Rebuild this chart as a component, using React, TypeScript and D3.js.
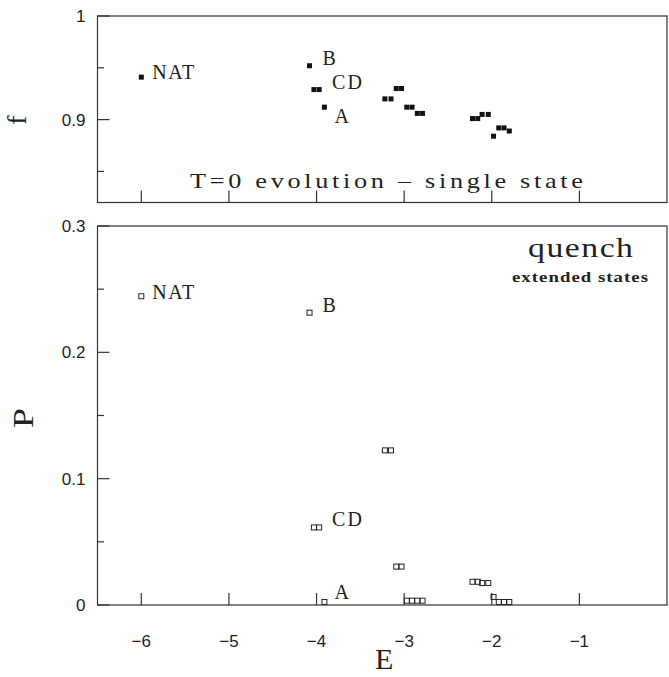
import React from "react";
import * as d3 from "d3";

// states: energy E, overlap f (T=0 evolution), population P (quench)
const energies = [-6.0, -4.08, -4.03, -3.97, -3.91, -3.22, -3.15, -3.09, -3.03, -2.97, -2.91, -2.85, -2.79, -2.22, -2.16, -2.11, -2.04, -1.98, -1.92, -1.86, -1.8];
const overlaps = [0.941, 0.952, 0.929, 0.929, 0.912, 0.92, 0.92, 0.93, 0.93, 0.912, 0.912, 0.906, 0.906, 0.901, 0.901, 0.905, 0.905, 0.884, 0.892, 0.892, 0.889];
const populations = [0.244, 0.231, 0.061, 0.061, 0.002, 0.122, 0.122, 0.03, 0.03, 0.003, 0.003, 0.003, 0.003, 0.018, 0.018, 0.017, 0.017, 0.006, 0.002, 0.002, 0.002];

// labelled states: index of the point it sits next to
const labelNames = ["NAT", "B", "CD", "A"];
const labelIdx = [0, 1, 2, 4];
const labelDx = [11, 13, 18, 10];
const labelDyTop = [2, -1, -1, 16];
const labelDyBot = [2, -1, -2, -3];
const labelLen = [42, 13, 30, 14];

const xTicks = [-6, -5, -4, -3, -2, -1];
const fMajor = [0.9, 1];
const fMinor = [0.85, 0.95];
const pMajor = [0, 0.1, 0.2, 0.3];
const pMinor = [0.05, 0.15, 0.25];

const W = 669;
const H = 677;
const left = 97.5;
const right = 667;
const ink = "#333";
const serif = "'Liberation Serif', 'DejaVu Serif', serif";
const sans = "'Liberation Sans', Arial, sans-serif";

// text stretched horizontally by sx, then spaced out to a given width
function Wide(props: { x: number; y: number; len: number; size: number; sx?: number; weight?: string; children: string }) {
  const sx = props.sx ?? 1.25;
  return (
    <g transform={`translate(${props.x},${props.y}) scale(${sx},1)`}>
      <text x={0} y={0} fontFamily={serif} fontSize={props.size} fontWeight={props.weight} textLength={props.len / sx} lengthAdjust="spacing" fill="#222">
        {props.children}
      </text>
    </g>
  );
}

export default function App() {
  const x = d3.scaleLinear().domain([-6.5, 0]).range([left, right]);
  const yf = d3.scaleLinear().domain([0.82, 1]).range([202.5, 16]);
  const yp = d3.scaleLinear().domain([0, 0.3]).range([605, 226]);
  const sq = 5;

  const frame = (y: d3.ScaleLinear<number, number>, major: number[], minor: number[], fmt: (v: number) => string, withTickLabels: boolean) => {
    const [b, t] = y.range();
    return (
      <g>
        <rect x={left} y={t} width={right - left} height={b - t} fill="none" stroke={ink} strokeWidth={1.2} />
        {major.map((v) => (
          <g key={"M" + v}>
            <line x1={left} x2={left + 12} y1={y(v)} y2={y(v)} stroke={ink} strokeWidth={1.2} />
            <text x={left - 12} y={y(v)} dy="0.35em" textAnchor="end" fontFamily={sans} fontSize={17} fill="#222">{fmt(v)}</text>
          </g>
        ))}
        {minor.map((v) => (
          <line key={"m" + v} x1={left} x2={left + 6.5} y1={y(v)} y2={y(v)} stroke={ink} strokeWidth={1.2} />
        ))}
        {xTicks.map((v) => (
          <g key={"x" + v}>
            <line x1={x(v)} x2={x(v)} y1={b} y2={b - 12} stroke={ink} strokeWidth={1.2} />
            {withTickLabels && (
              <text x={x(v)} y={b + 42} textAnchor="middle" fontFamily={sans} fontSize={17} fill="#222">{"\u2212" + Math.abs(v)}</text>
            )}
          </g>
        ))}
      </g>
    );
  };

  const label = (k: number, px: number, py: number, key: string) => (
    <Wide key={key} x={px + labelDx[k]} y={py} len={labelLen[k]} size={20} sx={1}>{labelNames[k]}</Wide>
  );

  return (
    <svg width={W} height={H} style={{ position: "absolute", left: 0, top: 0, background: "#fff" }}>
      {/* top panel */}
      {frame(yf, fMajor, fMinor, (v) => (v === 1 ? "1" : d3.format(".1f")(v)), false)}
      {energies.map((e, i) => (
        <rect key={"f" + i} x={x(e) - sq / 2} y={yf(overlaps[i]) - 2.5} width={sq} height={5} fill="#111" />
      ))}
      {labelNames.map((n, k) => {
        const i = labelIdx[k];
        return label(k, x(energies[i]), yf(overlaps[i]) + labelDyTop[k], "tl" + n);
      })}
      <Wide x={190} y={188} len={393} size={21}>T=0 evolution – single state</Wide>
      <text transform={`translate(26,120) rotate(-90)`} textAnchor="middle" fontFamily={serif} fontSize={28} fill="#222">f</text>

      {/* bottom panel */}
      {frame(yp, pMajor, pMinor, (v) => (v === 0 ? "0" : d3.format(".1f")(v)), true)}
      {energies.map((e, i) => (
        <rect key={"p" + i} x={x(e) - sq / 2} y={yp(populations[i]) - sq / 2 - 0.5} width={sq} height={sq} fill="none" stroke="#222" strokeWidth={1} />
      ))}
      {labelNames.map((n, k) => {
        const i = labelIdx[k];
        return label(k, x(energies[i]), yp(populations[i]) + labelDyBot[k], "bl" + n);
      })}
      <Wide x={528} y={257} len={105} size={27}>quench</Wide>
      <Wide x={512} y={282} len={136} size={15} weight="bold">extended states</Wide>
      <text transform={`translate(33,418) scale(1,1.2) rotate(-90)`} textAnchor="middle" fontFamily={serif} fontSize={30} fill="#222">P</text>
      <text x={(left + right) / 2 + 2} y={669} textAnchor="middle" fontFamily={serif} fontSize={30} fill="#222">E</text>
    </svg>
  );
}
